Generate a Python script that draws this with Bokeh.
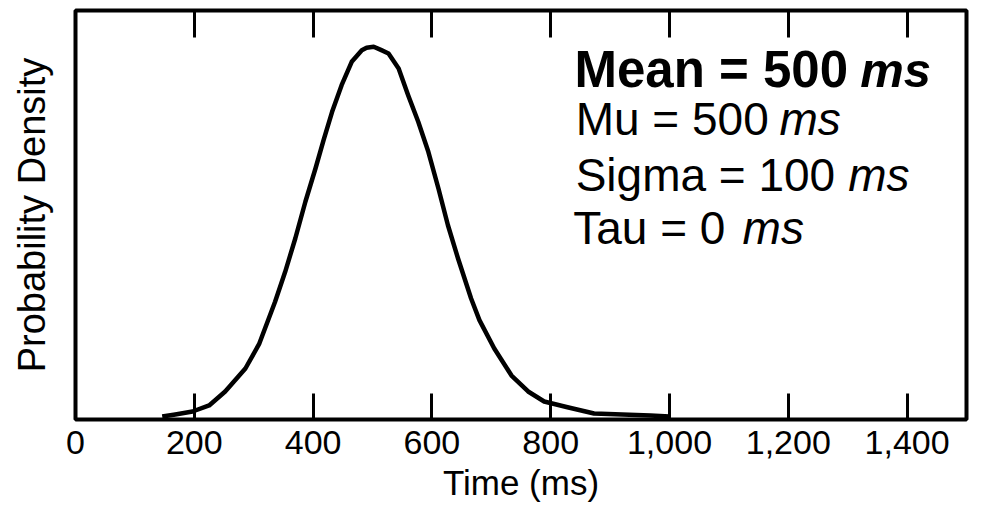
from bokeh.plotting import figure
from bokeh.models import LinearAxis, FixedTicker, NumeralTickFormatter, Range1d
from bokeh.core.properties import value
from bokeh.embed import file_html
from bokeh.resources import INLINE

# Curve: time (ms) and probability density
time_ms = [146, 168, 197, 225, 252, 286, 309, 336, 353, 370, 387, 404, 418, 432,
           448, 465, 482, 490, 502, 515, 527, 544, 560, 577, 594, 611, 627, 644,
           666, 680, 705, 734, 762, 789, 830, 873, 968, 1000]
density = [0.0, 0.000022, 0.000054, 0.000119, 0.00027, 0.000518, 0.00078, 0.001238,
           0.001561, 0.001921, 0.002317, 0.002676, 0.00299, 0.003288, 0.003575,
           0.003827, 0.003953, 0.00398, 0.00399, 0.003953, 0.003917, 0.003755,
           0.003467, 0.00318, 0.002856, 0.00246, 0.002064, 0.001705, 0.001273,
           0.00104, 0.000734, 0.000442, 0.00027, 0.000162, 0.000097, 0.000032,
           0.000011, 0.0]

x_ticks = [0, 200, 400, 600, 800, 1000, 1200, 1400]

# Annotation texts
line_texts = ["Mu = 500", "Sigma = 100", "Tau = 0"]
unit_text = "ms"
title_text = "Mean = 500"

FONT = "Liberation Sans"

p = figure(width=976, height=508, output_backend="svg", toolbar_location=None,
           x_range=Range1d(0, 1500), y_range=Range1d(-0.0000324, 0.004381),
           x_axis_label="Time (ms)", y_axis_label="Probability Density")
p.min_border_left = 75
p.min_border_right = 10
p.min_border_top = 10
p.min_border_bottom = 89
p.background_fill_color = "white"
p.border_fill_color = "white"
p.outline_line_color = "black"
p.outline_line_width = 4
p.xgrid.visible = False
p.ygrid.visible = False

p.line(time_ms, density, line_color="black", line_width=4.5, line_join="round")

# bottom axis
xa = p.xaxis[0]
xa.ticker = FixedTicker(ticks=x_ticks)
xa.formatter = NumeralTickFormatter(format="0,0")
xa.major_tick_in = 26
xa.major_tick_out = 0
xa.major_tick_line_width = 3
xa.minor_tick_line_color = None
xa.axis_line_color = None
xa.major_label_text_font = FONT
xa.major_label_text_font_size = "34px"
xa.major_label_text_color = "black"
xa.major_label_standoff = 11
xa.axis_label_text_font = FONT
xa.axis_label_text_font_size = "35px"
xa.axis_label_text_font_style = "normal"
xa.axis_label_text_color = "black"
xa.axis_label_standoff = 6

# top axis (ticks only)
top = LinearAxis(ticker=FixedTicker(ticks=x_ticks[1:]), major_tick_in=27, major_tick_out=0,
                 major_tick_line_width=3, minor_tick_line_color=None,
                 axis_line_color=None, major_label_standoff=0,
                 major_label_overrides={t: "" for t in x_ticks[1:]})
p.add_layout(top, "above")

# left axis (label only)
ya = p.yaxis[0]
ya.ticker = FixedTicker(ticks=[])
ya.major_tick_line_color = None
ya.minor_tick_line_color = None
ya.axis_line_color = None
ya.major_label_standoff = 0
ya.axis_label_text_font = FONT
ya.axis_label_text_font_size = "38px"
ya.axis_label_text_font_style = "normal"
ya.axis_label_text_color = "black"
ya.axis_label_standoff = 23

# annotations
p.text(x=[840], y=[0.003744], text=[title_text], text_font=value(FONT),
       text_font_size="51px", text_font_style="bold", text_baseline="alphabetic",
       text_color="black")
p.text(x=[1321], y=[0.003744], text=[unit_text], text_font=value(FONT),
       text_font_size="49px", text_font_style="bold italic", text_baseline="alphabetic",
       text_color="black")
p.text(x=[842, 842, 838], y=[0.003215, 0.002611, 0.002029], text=line_texts,
       text_font=value(FONT), text_font_size="46px", text_baseline="alphabetic",
       text_color="black")
p.text(x=[1185, 1301, 1123], y=[0.003215, 0.002611, 0.002029], text=[unit_text] * 3,
       text_font=value(FONT), text_font_size="46px", text_font_style="italic",
       text_baseline="alphabetic", text_color="black")

open("out.html", "w").write(file_html(p, INLINE))
